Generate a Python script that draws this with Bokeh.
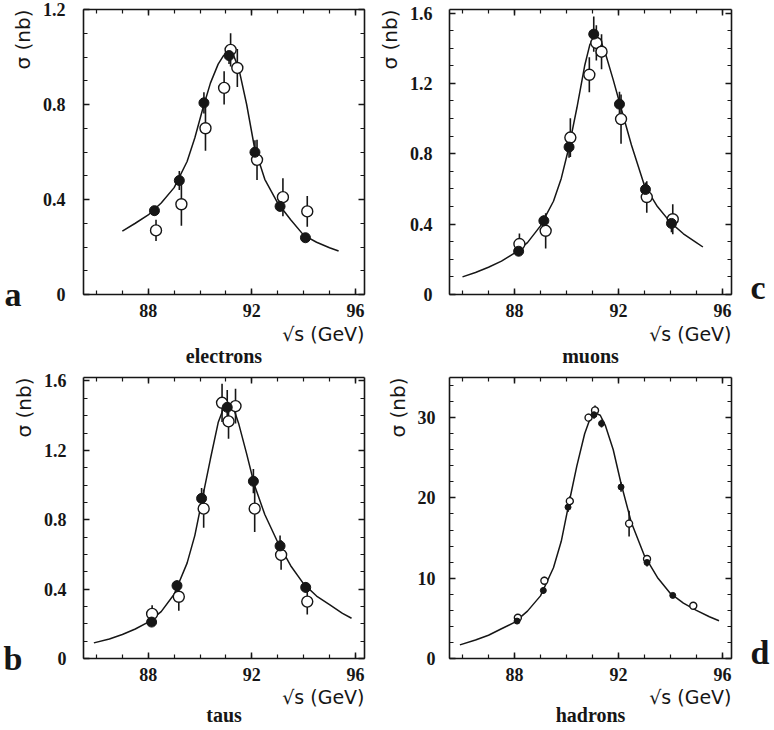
from bokeh.plotting import figure
from bokeh.layouts import gridplot
from bokeh.models import LinearAxis, FixedTicker, Range1d, Title
from bokeh.embed import file_html
from bokeh.resources import INLINE

# ---------------- data ----------------
x_major = [88, 92, 96]
x_minor = [86, 87, 88, 89, 90, 91, 92, 93, 94, 95, 96]

# (a) electrons
e_curve_x = [87.0, 87.5, 88.0, 88.5, 89.0, 89.5, 89.8, 90.1, 90.4, 90.7, 90.9, 91.1,
             91.3, 91.5, 91.8, 92.1, 92.5, 93.0, 93.5, 94.0, 94.5, 95.0, 95.35]
e_curve_y = [0.267, 0.30, 0.335, 0.385, 0.45, 0.56, 0.66, 0.78, 0.89, 0.97, 1.005, 1.02,
             1.005, 0.95, 0.80, 0.62, 0.485, 0.385, 0.315, 0.25, 0.22, 0.197, 0.183]
e_fill_x = [88.24, 89.20, 90.15, 91.12, 92.12, 93.09, 94.07]
e_fill_y = [0.353, 0.48, 0.807, 1.006, 0.599, 0.371, 0.239]
e_fill_err = [0.02, 0.04, 0.045, 0.035, 0.05, 0.02, 0.015]
e_open_x = [88.30, 89.28, 90.21, 90.93, 91.18, 91.44, 92.20, 93.20, 94.14]
e_open_y = [0.27, 0.38, 0.70, 0.87, 1.03, 0.954, 0.567, 0.41, 0.35]
e_open_err = [0.045, 0.09, 0.095, 0.07, 0.07, 0.08, 0.085, 0.08, 0.065]

# (c) muons
m_curve_x = [86.0, 86.5, 87.0, 87.5, 88.0, 88.5, 89.0, 89.5, 89.8, 90.1, 90.4, 90.7, 90.9,
             91.1, 91.3, 91.5, 91.8, 92.1, 92.5, 93.0, 93.5, 94.0, 94.5, 95.0, 95.25]
m_curve_y = [0.10, 0.125, 0.155, 0.19, 0.235, 0.295, 0.39, 0.53, 0.66, 0.84, 1.06, 1.30, 1.42,
             1.47, 1.45, 1.37, 1.22, 1.06, 0.85, 0.62, 0.50, 0.41, 0.345, 0.295, 0.27]
m_fill_x = [88.16, 89.13, 90.10, 91.05, 92.04, 93.04, 94.04]
m_fill_y = [0.246, 0.419, 0.838, 1.48, 1.082, 0.597, 0.404]
m_fill_err = [0.02, 0.03, 0.06, 0.10, 0.07, 0.04, 0.05]
m_open_x = [88.19, 89.20, 90.15, 90.88, 91.15, 91.35, 92.10, 93.09, 94.09]
m_open_y = [0.287, 0.362, 0.892, 1.249, 1.43, 1.38, 0.997, 0.554, 0.428]
m_open_err = [0.06, 0.10, 0.11, 0.10, 0.10, 0.10, 0.14, 0.09, 0.085]

# (b) taus
t_curve_x = [85.9, 86.5, 87.0, 87.5, 88.0, 88.5, 89.0, 89.5, 89.8, 90.1, 90.4, 90.7, 90.9,
             91.1, 91.3, 91.5, 91.8, 92.1, 92.5, 93.0, 93.5, 94.0, 94.5, 95.0, 95.5, 95.85]
t_curve_y = [0.09, 0.112, 0.138, 0.17, 0.21, 0.27, 0.37, 0.55, 0.71, 0.93, 1.15, 1.36, 1.44,
             1.46, 1.44, 1.35, 1.18, 1.00, 0.83, 0.67, 0.535, 0.43, 0.36, 0.31, 0.26, 0.232]
t_fill_x = [88.13, 89.11, 90.06, 91.05, 92.06, 93.09, 94.08]
t_fill_y = [0.21, 0.42, 0.923, 1.448, 1.022, 0.649, 0.41]
t_fill_err = [0.02, 0.03, 0.06, 0.10, 0.07, 0.06, 0.03]
t_open_x = [88.15, 89.18, 90.14, 90.85, 91.10, 91.37, 92.11, 93.13, 94.14]
t_open_y = [0.257, 0.356, 0.864, 1.474, 1.367, 1.455, 0.864, 0.597, 0.328]
t_open_err = [0.05, 0.08, 0.11, 0.11, 0.10, 0.10, 0.135, 0.085, 0.075]

# (d) hadrons
h_curve_x = [85.9, 86.5, 87.0, 87.5, 88.0, 88.5, 89.0, 89.5, 89.8, 90.1, 90.4, 90.7, 90.9,
             91.1, 91.3, 91.5, 91.8, 92.1, 92.5, 93.0, 93.5, 94.0, 94.5, 95.0, 95.5, 95.87]
h_curve_y = [1.7, 2.3, 2.9, 3.7, 4.5, 5.9, 7.8, 11.3, 14.6, 19.4, 24.0, 28.0, 29.8,
             30.6, 30.3, 29.0, 26.0, 21.8, 16.9, 12.8, 10.1, 8.1, 6.9, 6.0, 5.2, 4.7]
h_fill_x = [88.10, 89.11, 90.06, 91.06, 91.35, 92.10, 93.10, 94.09]
h_fill_y = [4.66, 8.47, 18.85, 30.36, 29.27, 21.36, 11.96, 7.86]
h_fill_err = [0.3, 0.4, 0.6, 0.5, 0.5, 0.6, 0.5, 0.3]
h_open_x = [88.13, 89.15, 90.13, 90.85, 91.10, 92.41, 93.10, 94.88]
h_open_y = [5.07, 9.69, 19.6, 30.0, 30.9, 16.8, 12.4, 6.57]
h_open_err = [0.3, 0.5, 0.6, 0.5, 0.6, 1.6, 0.5, 0.4]

sigma_ticks_small = [0, 0.4, 0.8, 1.2]
sigma_ticks_mid = [0, 0.4, 0.8, 1.2, 1.6]
sigma_minor_small = [round(0.1 * i, 1) for i in range(0, 13)]
sigma_minor_mid = [round(0.1 * i, 1) for i in range(0, 17)]
sigma_ticks_had = [0, 10, 20, 30]
sigma_minor_had = list(range(0, 36, 2))

channel_names = ["electrons", "muons", "taus", "hadrons"]
panel_letters = ["a", "c", "b", "d"]
x_caption = "√s (GeV)"
y_caption = "σ (nb)"

# ---------------- layout / style ----------------
INK = "#161616"
SERIF = "Liberation Serif"
SANS = "DejaVu Sans"
X0, X1 = 85.5, 96.35

ROW_H = [366, 362]
ROW_BT = [9, 11]
ROW_BB = [72, 70]
COL_W = [370, 402]
COL_BL = [78, 77]
COL_BR = [6, 38]


def style_axis(ax, show_labels, standoff):
    ax.axis_line_color = INK
    ax.axis_line_width = 1.6
    ax.major_tick_line_color = INK
    ax.major_tick_line_width = 1.5
    ax.minor_tick_line_color = INK
    ax.minor_tick_line_width = 1.2
    ax.major_tick_in = 6
    ax.major_tick_out = 0
    ax.minor_tick_in = 4
    ax.minor_tick_out = 0
    if show_labels:
        ax.major_label_text_font = SERIF
        ax.major_label_text_font_style = "bold"
        ax.major_label_text_font_size = "18px"
        ax.major_label_text_color = INK
        ax.major_label_standoff = standoff
    else:
        ax.major_label_text_font_size = "0px"
        ax.major_label_standoff = 0
        ax.major_label_text_alpha = 0


def letter_axis(letter, yval, standoff):
    """An axis with a single labelled tick and nothing else: the panel letter."""
    ax = LinearAxis(ticker=FixedTicker(ticks=[yval], minor_ticks=[]))
    ax.axis_line_color = None
    ax.major_tick_line_color = None
    ax.minor_tick_line_color = None
    ax.major_tick_in = 0
    ax.major_tick_out = 0
    ax.minor_tick_in = 0
    ax.minor_tick_out = 0
    ax.major_label_overrides = {yval: letter}
    ax.major_label_text_font = SERIF
    ax.major_label_text_font_style = "bold"
    ax.major_label_text_font_size = "34px"
    ax.major_label_text_color = INK
    ax.major_label_standoff = standoff
    return ax


def panel(col, row, yr, ymaj, ymin, ystand, cx, cy, fx, fy, fe, ox, oy, oe,
          msize, name, letter, letter_y, s1, s2, overrides):
    bt, bb, h = ROW_BT[row], ROW_BB[row], ROW_H[row]
    p = figure(width=COL_W[col], height=h,
               min_border_left=COL_BL[col], min_border_right=COL_BR[col],
               min_border_top=bt, min_border_bottom=bb,
               x_range=Range1d(X0, X1), y_range=Range1d(*yr),
               x_axis_location=None, y_axis_location=None,
               output_backend="svg", toolbar_location=None,
               background_fill_color="white", border_fill_color="white",
               outline_line_color=None)
    p.xgrid.visible = False
    p.ygrid.visible = False

    for loc in ("below", "above"):
        ax = LinearAxis(ticker=FixedTicker(ticks=x_major, minor_ticks=x_minor))
        style_axis(ax, loc == "below", 9)
        p.add_layout(ax, loc)
    for loc in ("left", "right"):
        ax = LinearAxis(ticker=FixedTicker(ticks=ymaj, minor_ticks=ymin))
        style_axis(ax, loc == "left", ystand)
        if loc == "left":
            ax.major_label_overrides = overrides
        p.add_layout(ax, loc)

    # captions below the frame
    t1 = Title(text=x_caption, align="right", text_font=SANS, text_font_size="19px",
               text_font_style="normal", text_color=INK, standoff=s1, text_line_height=0.8)
    p.add_layout(t1, "below")
    t2 = Title(text=name, align="center", text_font=SERIF, text_font_size="20px",
               text_font_style="bold", text_color=INK, standoff=s2, text_line_height=0.8)
    p.add_layout(t2, "below")

    # y caption, top of the left side
    ts = Title(text=y_caption, align="right", text_font=SANS, text_font_size="20px",
               text_font_style="normal", text_color=INK, standoff=10, text_line_height=0.9)
    p.add_layout(ts, "left")

    # panel letter
    if col == 0:
        p.add_layout(letter_axis(letter, letter_y, -18), "left")
    else:
        p.add_layout(letter_axis(letter, letter_y, 19), "right")

    p.line(cx, cy, line_color=INK, line_width=1.5)
    p.segment(x0=fx, y0=[y - e for y, e in zip(fy, fe)], x1=fx,
              y1=[y + e for y, e in zip(fy, fe)], line_color=INK, line_width=1.6)
    p.segment(x0=ox, y0=[y - e for y, e in zip(oy, oe)], x1=ox,
              y1=[y + e for y, e in zip(oy, oe)], line_color=INK, line_width=1.6)
    p.scatter(ox, oy, size=msize + 1, marker="circle", fill_color="white",
              line_color=INK, line_width=1.4)
    p.scatter(fx, fy, size=msize, marker="circle", fill_color=INK,
              line_color=INK, line_width=1.0)
    return p


pa = panel(0, 0, (0, 1.2), sigma_ticks_small, sigma_minor_small, 18,
           e_curve_x, e_curve_y, e_fill_x, e_fill_y, e_fill_err,
           e_open_x, e_open_y, e_open_err, 10, channel_names[0],
           panel_letters[0], 0, 3, -8, {0: "0"})
pc = panel(1, 0, (0, 1.62), sigma_ticks_mid, sigma_minor_mid, 17,
           m_curve_x, m_curve_y, m_fill_x, m_fill_y, m_fill_err,
           m_open_x, m_open_y, m_open_err, 10, channel_names[1],
           panel_letters[1], 0.04, 3, -8, {0: "0"})
pb = panel(0, 1, (0, 1.62), sigma_ticks_mid, sigma_minor_mid, 17,
           t_curve_x, t_curve_y, t_fill_x, t_fill_y, t_fill_err,
           t_open_x, t_open_y, t_open_err, 10, channel_names[2],
           panel_letters[2], 0, 0, -12, {0: "0"})
pd = panel(1, 1, (0, 35), sigma_ticks_had, sigma_minor_had, 14,
           h_curve_x, h_curve_y, h_fill_x, h_fill_y, h_fill_err,
           h_open_x, h_open_y, h_open_err, 6, channel_names[3],
           panel_letters[3], 0.73, 0, -12, {})

grid = gridplot([[pa, pc], [pb, pd]], toolbar_location=None)

open("out.html", "w").write(file_html(grid, INLINE))
